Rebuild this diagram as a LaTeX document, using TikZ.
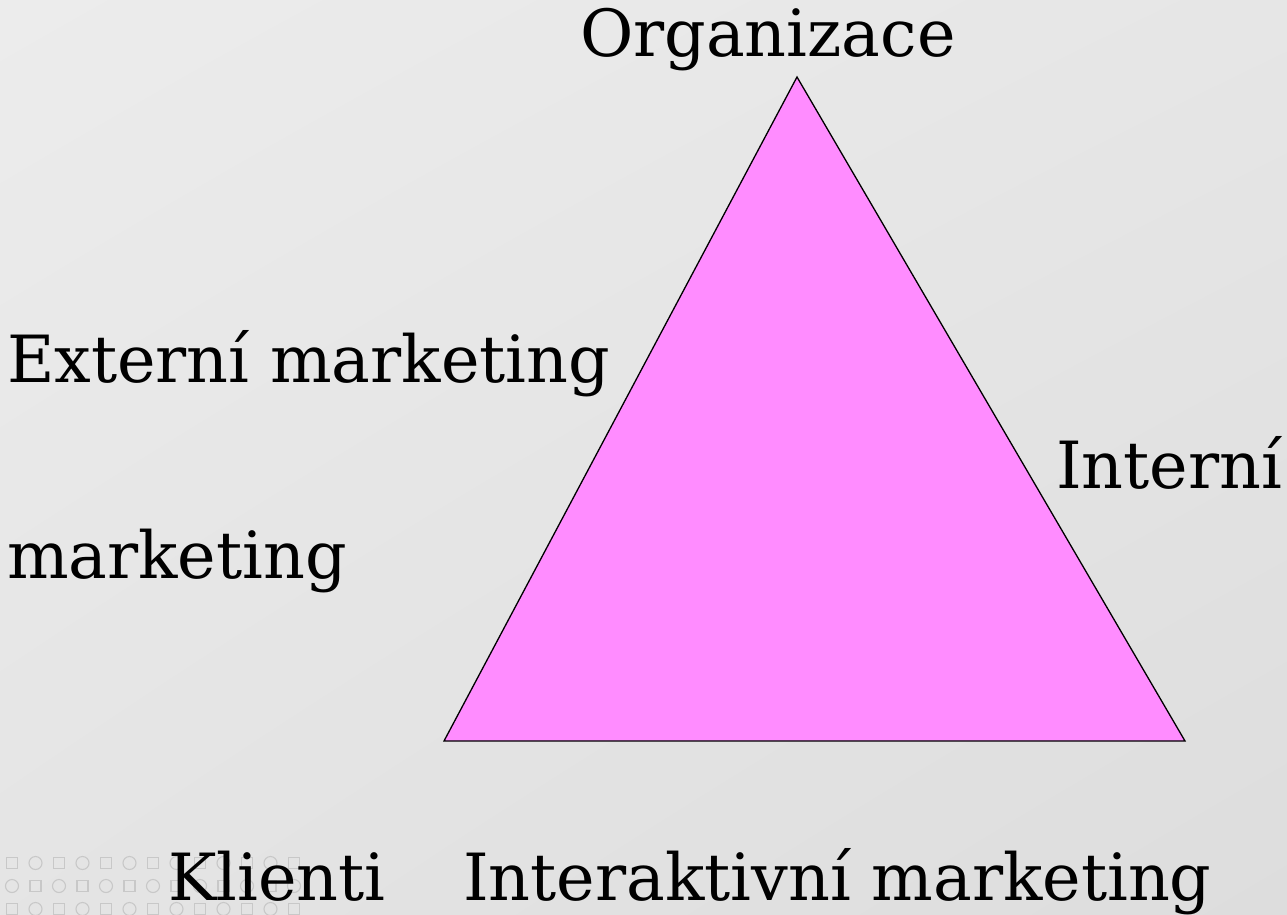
\documentclass[tikz,border=0pt]{standalone}
\usepackage{fontspec}
\setmainfont{DejaVu Serif}
\usetikzlibrary{positioning,shadings}

\begin{document}
\begin{tikzpicture}[x=1bp,y=-1bp,font=\fontsize{65.3}{78}\selectfont]
		
		%\draw[help lines,step=50,gray!20] (0,0) grid (1287,915);
		
		\definecolor{BgLight}{RGB}{236,236,236}
		\definecolor{BgDark}{RGB}{221,221,221}
		\definecolor{DotGray}{RGB}{200,200,200}
		\definecolor{TriPink}{RGB}{255,140,255}
		
		\pgfmathsetmacro{\dotDist}{23.5}
		\pgfmathsetmacro{\rowDist}{23}
		
		\tikzset{
			triLabel/.style={
				anchor=base west,
				inner sep=0,
				outer sep=0pt,
			},
			triSide/.style={
				draw, black, line width=1.3bp, fill=TriPink,
				line join=miter,
			},
			dotSquare/.style={
				draw=DotGray, line width=1.1bp,
			},
		}
		
		% Background
		\useasboundingbox (0,0) rectangle (1287,915);
		\shade[upper left=BgLight,upper right=BgLight!60!BgDark,
			lower left=BgLight!50!BgDark,lower right=BgDark] (0,0) rectangle (1287,915);
		
		% Pattern
		\foreach \r in {0,1,2} {
			\foreach \i in {0,...,12} {
				\pgfmathtruncatemacro{\odd}{mod(\i+\r,2)}
				\ifnum\odd=0
					\draw[dotSquare] (12+\i*\dotDist,863+\r*\rowDist) ++(-5.5,-5.5) rectangle ++(11,11);
				\else
					\draw[dotSquare] (12+\i*\dotDist,863+\r*\rowDist) circle (6.5);
				\fi
			}
		}
		
		% Triangle
		\coordinate (org) at (797,77);
		\coordinate (kli) at (444,741);
		\coordinate (int) at (1185,741);
		\path[triSide] (org) -- (int) -- (kli) -- cycle;
		
		% Labels
		\node[triLabel] (organizace) at (580,56) {Organizace};
		\node[triLabel] (externi) at (7,382) {Externí marketing};
		\node[triLabel] (interni) at (1056,488) {Interní};
		\node[triLabel] (marketing) at (7,578) {marketing};
		\node[triLabel] (klienti) at (168,900) {Klienti};
		\node[triLabel] (interaktivni) at (463,900) {Interaktivní marketing};
		
	\end{tikzpicture}
\end{document}
